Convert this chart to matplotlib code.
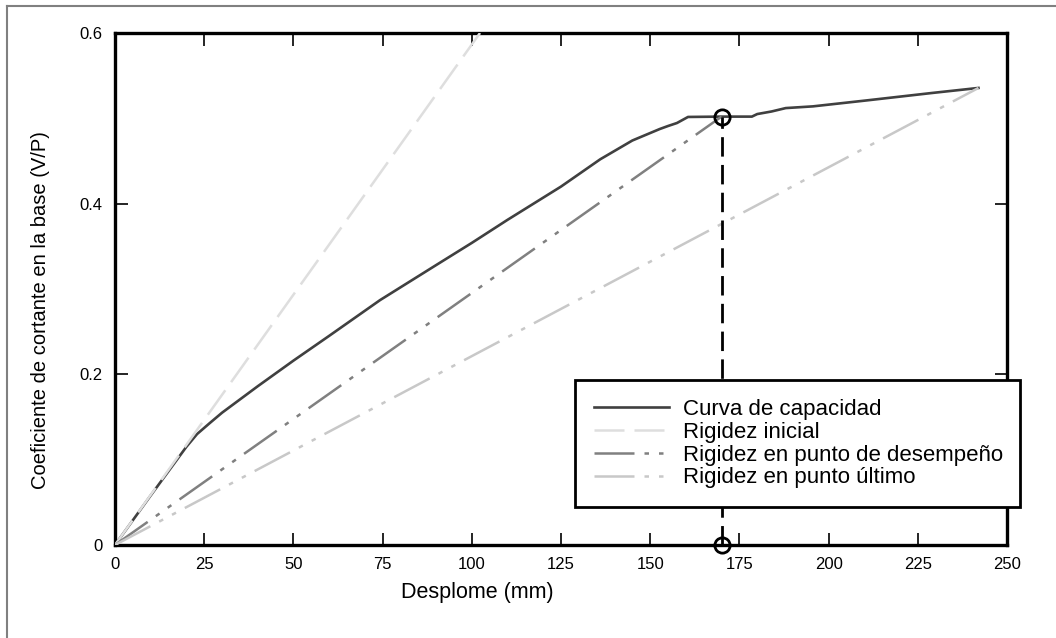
import matplotlib
matplotlib.use("Agg")
from matplotlib import pyplot as plt
from matplotlib.lines import Line2D
import numpy as np

plt.rcParams['font.family'] = ['Liberation Sans', 'DejaVu Sans']

# curva de capacidad (desplome en mm, V/P)
curva_x = [0, 10, 20, 23, 26.6, 30, 40, 50, 60, 74.3, 90, 100, 110, 125, 136, 145,
           152.7, 155, 157.5, 160.6, 170, 178.5, 180, 184, 188, 195.6, 210.7, 229, 242]
curva_y = [0, 0.058, 0.115, 0.13, 0.143, 0.155, 0.186, 0.216, 0.245, 0.287, 0.328, 0.354,
           0.381, 0.42, 0.452, 0.474, 0.4875, 0.491, 0.4945, 0.5016, 0.502, 0.502,
           0.505, 0.508, 0.512, 0.514, 0.521, 0.5297, 0.5356]

# rigideces (rectas desde el origen)
k_ini_x = [0, 102.3]
k_ini_y = [0, 0.6]
k_des_x = [0, 170]
k_des_y = [0, 0.502]
k_ult_x = [0, 242]
k_ult_y = [0, 0.5356]

# punto de desempeño
pd_x = [170, 170]
pd_y = [0, 0.502]

xticks = [0, 25, 50, 75, 100, 125, 150, 175, 200, 225, 250]
yticks = [0, 0.2, 0.4, 0.6]
ytick_labels = ['0', '0.2', '0.4', '0.6']

fig = plt.figure(figsize=(10.56, 6.38), dpi=100)
ax = fig.add_axes([0.1089, 0.1458, 0.8447, 0.8025])

ax.plot(curva_x, curva_y, color='#404040', lw=1.9, label='Curva de capacidad', zorder=2)
ax.plot(k_ini_x, k_ini_y, color='#dedede', lw=1.8, dashes=(12, 4),
        label='Rigidez inicial', zorder=3)
ax.plot(k_des_x, k_des_y, color='#808080', lw=1.8, dashes=(16, 4, 1.8, 4, 1.8, 4),
        label='Rigidez en punto de desempeño', zorder=3)
ax.plot(k_ult_x, k_ult_y, color='#c8c8c8', lw=1.8, dashes=(16, 4, 1.8, 4, 1.8, 4),
        label='Rigidez en punto último', zorder=3)

ax.plot(pd_x, pd_y, color='black', lw=2, dashes=(7, 3), zorder=4)
ax.plot(pd_x, pd_y, 'o', ms=11, mfc='none', mec='black', mew=2, zorder=5, clip_on=False)

ax.set_xlim(0, 250)
ax.set_ylim(0, 0.6)
ax.set_xticks(xticks)
ax.set_yticks(yticks)
ax.set_yticklabels(ytick_labels)
ax.tick_params(direction='in', length=9, width=1.2, labelsize=12,
               top=True, right=True, pad=9)
for s in ax.spines.values():
    s.set_linewidth(2.4)

ax.set_xlabel('Desplome (mm)', fontsize=15.5)
ax.set_ylabel('Coeficiente de cortante en la base (V/P)', fontsize=14.5)
ax.xaxis.set_label_coords(0.406, -0.072)
ax.yaxis.set_label_coords(-0.073, 0.459)

leg = ax.legend(loc='upper left', bbox_to_anchor=(0.5157, 0.068, 0.4989, 0.254),
                mode='expand', borderaxespad=0, fontsize=16, handlelength=3.4,
                handletextpad=0.6, labelspacing=0.08, borderpad=0.85,
                fancybox=False, framealpha=1, edgecolor='black')
leg.get_frame().set_linewidth(2)
leg.set_zorder(6)

# marco de la figura (arriba e izquierda)
fig.add_artist(Line2D([7 / 1056, 1], [1 - 6 / 638, 1 - 6 / 638], color='#808080', lw=1.5))
fig.add_artist(Line2D([7 / 1056, 7 / 1056], [0, 1 - 6 / 638], color='#808080', lw=1.5))

fig.savefig('out.png', dpi=100, facecolor='white')
